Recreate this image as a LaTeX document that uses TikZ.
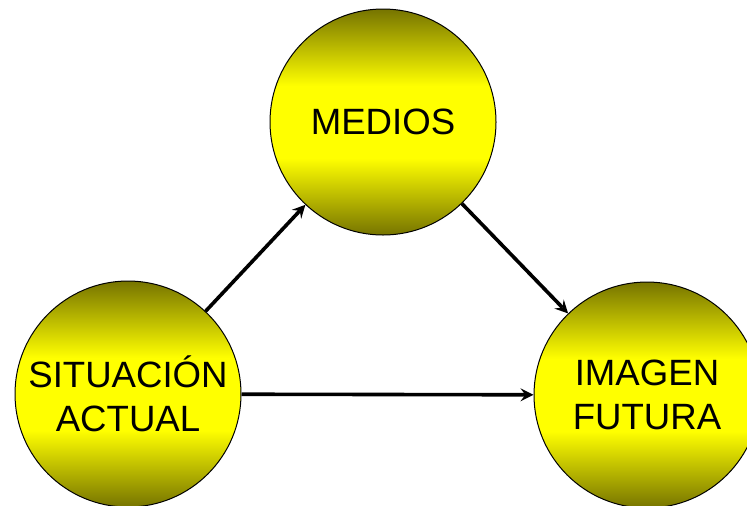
\documentclass[tikz,border=0pt]{standalone}
\usepackage{fontspec}
\setmainfont{Liberation Sans}
\definecolor{darkolive}{RGB}{118,116,0}
\pgfdeclareverticalshading{globeshade}{100bp}{color(0bp)=(darkolive); color(25bp)=(darkolive);
  color(42bp)=(yellow); color(58bp)=(yellow); color(75bp)=(darkolive); color(100bp)=(darkolive)}
\begin{document}
\begin{tikzpicture}[x=0.5pt,y=-0.5pt]
\tikzstyle{globe}=[draw,circle,inner sep=0pt,minimum size=113pt,line width=0.5pt,
  shading=globeshade,font=\fontsize{18.3}{22}\selectfont,align=center]
\useasboundingbox (0,0) rectangle (747,505);
\node [globe] (medios) at (383,122) {MEDIOS};
\node [globe] (actual) at (128,394) {SITUACIÓN\\ACTUAL};
\node [globe] (futura) at (647,395) {IMAGEN\\FUTURA};
\path[-stealth,line width=1.8pt]
    (actual) edge (medios)
    (medios) edge (futura)
    (actual) edge (futura);
\end{tikzpicture}
\end{document}
